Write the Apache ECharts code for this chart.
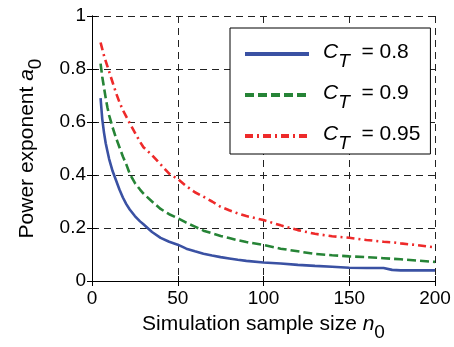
<!DOCTYPE html>
<html>
<head>
<meta charset="utf-8">
<script src="https://cdn.jsdelivr.net/npm/echarts@6/dist/echarts.min.js"></script>
<style>
  html, body { margin: 0; padding: 0; background: #fff; }
  #chart { width: 454px; height: 347px; }
</style>
</head>
<body>
<div id="chart"></div>
<script>
// 读图估计的数据：样本量 n0 与功率指数 a0
const sampleSizes = [5, 6, 7, 8, 9, 10, 12, 14, 16, 18, 20, 22, 25, 28, 30, 35, 40, 45, 50, 55, 60, 65, 70, 75, 80, 85, 90, 100, 110, 120, 130, 140, 150, 160, 170, 175, 180, 190, 200];

const a0Ct08 = [0.69, 0.61, 0.56, 0.52, 0.49, 0.46, 0.415, 0.38, 0.345, 0.315, 0.29, 0.27, 0.245, 0.225, 0.214, 0.185, 0.163, 0.148, 0.137, 0.122, 0.112, 0.103, 0.096, 0.09, 0.085, 0.08, 0.076, 0.07, 0.066, 0.061, 0.057, 0.054, 0.05, 0.049, 0.049, 0.042, 0.04, 0.04, 0.04];
const a0Ct09 = [0.82, 0.77, 0.73, 0.69, 0.655, 0.625, 0.58, 0.54, 0.505, 0.47, 0.44, 0.405, 0.37, 0.345, 0.33, 0.3, 0.272, 0.252, 0.237, 0.22, 0.205, 0.19, 0.18, 0.17, 0.162, 0.154, 0.147, 0.136, 0.122, 0.112, 0.102, 0.097, 0.093, 0.09, 0.086, 0.084, 0.082, 0.077, 0.072];
const a0Ct095 = [0.9, 0.875, 0.85, 0.83, 0.81, 0.79, 0.75, 0.71, 0.675, 0.645, 0.62, 0.595, 0.56, 0.525, 0.505, 0.475, 0.44, 0.405, 0.385, 0.358, 0.335, 0.318, 0.3, 0.28, 0.267, 0.255, 0.245, 0.23, 0.21, 0.192, 0.178, 0.169, 0.163, 0.155, 0.148, 0.146, 0.142, 0.135, 0.127];

const seriesNames = ['0.8', '0.9', '0.95'];
const xTicks = [0, 50, 100, 150, 200];
const yTicks = [0, 0.2, 0.4, 0.6, 0.8, 1];

const FONT = 'Liberation Sans, Arial, Helvetica, sans-serif';

const pairs = (ys) => sampleSizes.map((x, i) => [x, ys[i]]);

const chart = echarts.init(document.getElementById('chart'), null, { renderer: 'canvas' });

const gridDash = { color: '#222', width: 1, type: [7, 5] };

// 轴标题的富文本：斜体变量 + 下标
const nameRich = {
  t: { fontSize: 21, fontFamily: FONT, color: '#000', lineHeight: 24, verticalAlign: 'top' },
  i: { fontSize: 21, fontFamily: FONT, fontStyle: 'italic', color: '#000', lineHeight: 24, verticalAlign: 'top' },
  s: { fontSize: 19, fontFamily: FONT, color: '#000', lineHeight: 24, verticalAlign: 'top', padding: [9, 0, 0, 0] },
};

chart.setOption({
  backgroundColor: '#fff',
  animation: false,
  textStyle: { fontFamily: FONT },
  grid: { left: 92, right: 19, top: 16, bottom: 61, show: false },
  legend: {
    orient: 'vertical',
    left: 230,
    top: 28,
    padding: [14, 10, 1, 13],
    itemGap: 12,
    itemWidth: 64,
    itemHeight: 14,
    backgroundColor: '#fff',
    borderColor: '#000',
    borderWidth: 1,
    borderRadius: 0,
    itemStyle: { opacity: 0 },
    lineStyle: { width: 4 },
    formatter: (name) => '{c|C}{s|T}{n|  = ' + name + '}',
    textStyle: {
      fontFamily: FONT,
      color: '#000',
      rich: {
        c: { fontSize: 21, fontStyle: 'italic', fontFamily: FONT, color: '#000', lineHeight: 24, verticalAlign: 'top', padding: [0, 0, 0, 9] },
        s: { fontSize: 19, fontStyle: 'italic', fontFamily: FONT, color: '#000', lineHeight: 24, verticalAlign: 'top', padding: [10, 0, 0, 0] },
        n: { fontSize: 21, fontFamily: FONT, color: '#000', lineHeight: 24, verticalAlign: 'top' },
      },
    },
    data: seriesNames,
  },
  xAxis: [
    {
      type: 'value',
      min: xTicks[0],
      max: xTicks[xTicks.length - 1],
      interval: 50,
      name: '{t|Simulation sample size }{i|n}{s|0}',
      nameLocation: 'middle',
      nameGap: 33,
      nameTextStyle: { rich: nameRich },
      axisLine: { show: true, lineStyle: { color: '#000', width: 1 } },
      axisTick: { show: true, inside: true, length: 5, lineStyle: { color: '#000' } },
      axisLabel: { fontSize: 19, color: '#000', margin: 8, fontFamily: FONT },
      splitLine: { show: true, lineStyle: gridDash },
    },
    {
      type: 'value',
      position: 'top',
      min: 0,
      max: 200,
      interval: 50,
      axisLine: { show: true, lineStyle: { color: '#000', width: 1 } },
      axisTick: { show: true, inside: true, length: 5, lineStyle: { color: '#000' } },
      axisLabel: { show: false },
      splitLine: { show: false },
    },
  ],
  yAxis: [
    {
      type: 'value',
      min: yTicks[0],
      max: yTicks[yTicks.length - 1],
      interval: 0.2,
      name: '{t|Power exponent }{i|a}{s|0}',
      nameLocation: 'middle',
      nameGap: 51,
      nameRotate: 90,
      nameTextStyle: { rich: nameRich },
      axisLine: { show: true, lineStyle: { color: '#000', width: 1 } },
      axisTick: { show: true, inside: true, length: 5, lineStyle: { color: '#000' } },
      axisLabel: { fontSize: 19, color: '#000', margin: 6, fontFamily: FONT },
      splitLine: { show: true, lineStyle: gridDash },
    },
    {
      type: 'value',
      position: 'right',
      min: 0,
      max: 1,
      interval: 0.2,
      axisLine: { show: true, lineStyle: { color: '#000', width: 1 } },
      axisTick: { show: true, inside: true, length: 5, lineStyle: { color: '#000' } },
      axisLabel: { show: false },
      splitLine: { show: false },
    },
  ],
  series: [
    {
      name: seriesNames[0],
      type: 'line',
      data: pairs(a0Ct08),
      symbol: 'none',
      lineStyle: { color: '#3a51a3', width: 2.6, type: 'solid' },
      itemStyle: { color: '#3a51a3' },
      z: 3,
    },
    {
      name: seriesNames[1],
      type: 'line',
      data: pairs(a0Ct09),
      symbol: 'none',
      lineStyle: { color: '#268436', width: 2.6, type: [9, 4] },
      itemStyle: { color: '#268436' },
      z: 3,
    },
    {
      name: seriesNames[2],
      type: 'line',
      data: pairs(a0Ct095),
      symbol: 'none',
      lineStyle: { color: '#ee2a2a', width: 2.6, type: [8, 4, 2, 4] },
      itemStyle: { color: '#ee2a2a' },
      z: 3,
    },
  ],
});

window.addEventListener('resize', () => chart.resize());
</script>
</body>
</html>
